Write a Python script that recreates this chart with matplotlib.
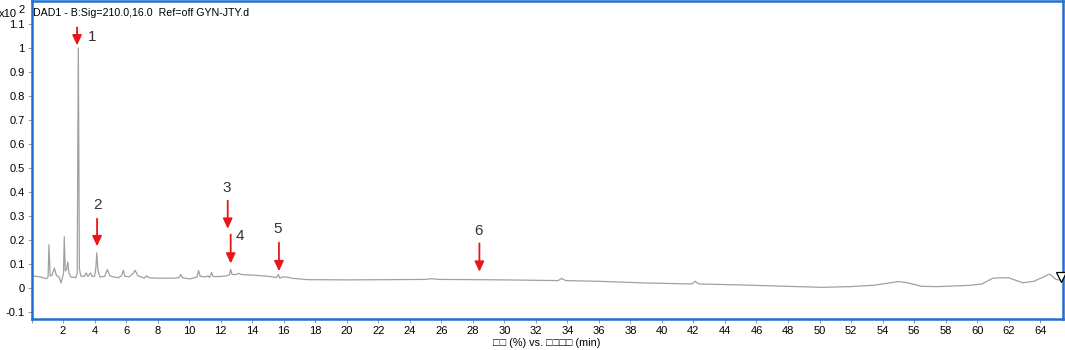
import matplotlib
matplotlib.use('Agg')
import matplotlib.pyplot as plt
from matplotlib.ticker import FuncFormatter

plt.rcParams['font.family'] = ['Liberation Sans', 'DejaVu Sans']

# retention time (min) and response (x10^2)
rt = [0.00, 0.50, 0.95, 1.05, 1.11, 1.18, 1.30, 1.45, 1.58, 1.75, 1.88, 1.95,
      2.03, 2.08, 2.14, 2.22, 2.30, 2.38, 2.50, 2.80, 2.90, 2.97, 3.04, 3.12,
      3.35, 3.47, 3.58, 3.75, 3.85, 4.00, 4.08, 4.14, 4.22, 4.35, 4.65, 4.81,
      4.97, 5.20, 5.50, 5.70, 5.83, 5.92, 6.20, 6.45, 6.57, 6.75, 7.00, 7.15,
      7.30, 7.45, 8.00, 9.00, 9.35, 9.47, 9.58, 10.05, 10.50, 10.60, 10.70,
      11.05, 11.20, 11.30, 11.43, 11.52, 12.00, 12.40, 12.56, 12.64, 12.72,
      12.95, 13.15, 13.35, 14.00, 15.00, 15.55, 15.66, 15.76, 15.90, 16.20,
      16.50, 17.00, 17.50, 20.00, 23.00, 25.00, 25.40, 25.80, 28.00, 30.00,
      33.40, 33.65, 33.90, 36.00, 39.00, 41.90, 42.10, 42.35, 45.00, 48.00,
      50.20, 52.00, 53.50, 55.00, 55.50, 56.50, 57.50, 59.50, 60.30, 61.00,
      61.30, 62.00, 62.50, 62.90, 63.60, 64.60, 65.00, 65.40]
resp = [0.050, 0.046, 0.038, 0.045, 0.180, 0.050, 0.052, 0.082, 0.052, 0.045, 0.020, 0.040,
        0.060, 0.213, 0.070, 0.075, 0.107, 0.060, 0.045, 0.042, 0.060, 1.000, 0.080, 0.050,
        0.047, 0.062, 0.047, 0.062, 0.047, 0.048, 0.080, 0.146, 0.070, 0.045, 0.048, 0.076,
        0.050, 0.045, 0.042, 0.050, 0.073, 0.048, 0.046, 0.060, 0.073, 0.050, 0.045, 0.040,
        0.050, 0.042, 0.040, 0.040, 0.042, 0.055, 0.042, 0.037, 0.045, 0.072, 0.048,
        0.045, 0.050, 0.043, 0.064, 0.047, 0.047, 0.050, 0.055, 0.076, 0.056,
        0.055, 0.060, 0.055, 0.053, 0.048, 0.043, 0.055, 0.040, 0.045, 0.045,
        0.040, 0.037, 0.034, 0.033, 0.034, 0.035, 0.038, 0.035, 0.034, 0.033,
        0.030, 0.039, 0.030, 0.027, 0.020, 0.016, 0.027, 0.016, 0.012, 0.006,
        0.002, 0.005, 0.011, 0.026, 0.022, 0.006, 0.005, 0.010, 0.016, 0.040,
        0.041, 0.042, 0.030, 0.021, 0.027, 0.057, 0.035, 0.030]

# peak marks: label, arrow x, arrow top, arrow tip, label position
peak_labels = ['1', '2', '3', '4', '5', '6']
arrow_x = [2.89, 4.16, 12.45, 12.64, 15.70, 28.42]
arrow_top = [1.085, 0.288, 0.363, 0.222, 0.188, 0.185]
arrow_tip = [1.010, 0.173, 0.246, 0.101, 0.069, 0.067]
label_x = [3.84, 4.16, 12.40, 13.23, 15.60, 28.35]
label_y = [1.047, 0.347, 0.417, 0.215, 0.247, 0.236]

xticks = list(range(0, 65, 2))
yticks = [-0.1, 0, 0.1, 0.2, 0.3, 0.4, 0.5, 0.6, 0.7, 0.8, 0.9, 1.0, 1.1]

W, H = 1065, 350
fig = plt.figure(figsize=(W / 100, H / 100), dpi=100)
ax = fig.add_axes([31.5 / W, 31 / H, (1063 - 31.5) / W, (349 - 31) / H])

ax.plot(rt, resp, color='#a0a0a0', lw=0.9)
ax.plot([65.3], [0.047], marker='v', ms=6.5, mfc='white', mec='black', mew=0.9,
        clip_on=False, zorder=5)

red = '#e8161b'
for i in range(len(peak_labels)):
    ax.annotate('', xy=(arrow_x[i], arrow_tip[i]), xytext=(arrow_x[i], arrow_top[i]),
                arrowprops=dict(arrowstyle='-|>,head_length=0.6,head_width=0.28',
                                color=red, lw=1.3, shrinkA=0, shrinkB=0))
    ax.text(label_x[i], label_y[i], peak_labels[i], fontsize=11, color='#333333',
            ha='center', va='center')

ax.set_xlim(0, 65.45)
ax.set_ylim(-0.13, 1.195)
ax.set_xticks(xticks)
ax.set_xticklabels(['' if t == 0 else str(t) for t in xticks])
ax.set_yticks(yticks)
ax.yaxis.set_major_formatter(FuncFormatter(lambda v, p: '%g' % round(v, 2)))
ax.tick_params(axis='both', labelsize=8, length=3, width=0.6, color='#888888', pad=2)

for s in ax.spines.values():
    s.set_color('#1f6fd2')
    s.set_linewidth(1.8)

fig.text(33 / W, 1 - 13 / H, 'DAD1 - B:Sig=210.0,16.0  Ref=off GYN-JTY.d',
         fontsize=7.7, va='center', ha='left')
fig.text(17 / W, 1 - 14 / H, 'x10', fontsize=8, va='center', ha='right')
fig.text(18.5 / W, 1 - 10 / H, '2', fontsize=8, va='center', ha='left')
fig.text(547 / W, 1 - 343 / H, '□□ (%) vs. □□□□ (min)', fontsize=7.8,
         va='center', ha='center')

fig.savefig('out.png', dpi=100)
